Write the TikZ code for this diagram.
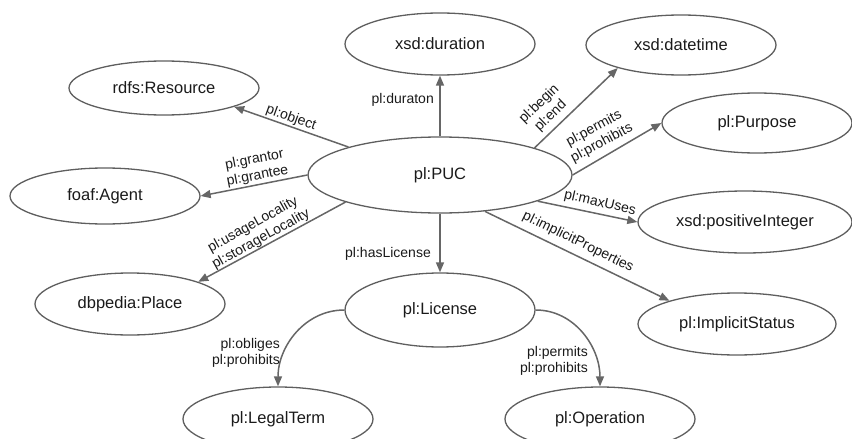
\documentclass[tikz,border=0pt]{standalone}
\usepackage{fontspec}
\setmainfont{Liberation Sans}
\usetikzlibrary{shapes.geometric,arrows.meta}
\definecolor{linegray}{HTML}{5E5E5E}
\definecolor{edgegray}{HTML}{666666}
\definecolor{txt}{HTML}{1A1A1A}
\begin{document}
\begin{tikzpicture}[x=1pt,y=-1pt,
  ent/.style={ellipse,draw=linegray,line width=1.3pt,inner sep=0pt,text=txt,
    minimum width=190pt,minimum height=62pt,font=\fontsize{16.5}{19}\selectfont},
  rel/.style={draw=edgegray,line width=1.5pt,-{Triangle[length=10pt,width=8pt]}},
  lbl/.style={text=txt,font=\fontsize{14}{16.5}\selectfont,inner sep=0pt,align=center}]
\useasboundingbox (0,0) rectangle (852,439);

% entities
\node[ent] (dur) at (440,44) {xsd:duration};
\node[ent,minimum height=54pt] (res) at (164,88) {rdfs:Resource};
\node[ent,minimum height=56pt] (agent) at (105,196) {foaf:Agent};
\node[ent,minimum width=264pt,minimum height=76pt] (puc) at (440,175) {pl:PUC};
\node[ent,minimum height=60pt] (dt) at (681,45) {xsd:datetime};
\node[ent,minimum height=60pt] (purp) at (757,123) {pl:Purpose};
\node[ent,minimum width=214pt] (posint) at (745,222) {xsd:positiveInteger};
\node[ent,minimum width=198pt] (impl) at (737,324) {pl:ImplicitStatus};
\node[ent] (place) at (130,304) {dbpedia:Place};
\node[ent,minimum height=74pt] (lic) at (440,310) {pl:License};
\node[ent,minimum height=64pt] (legal) at (278,419) {pl:LegalTerm};
\node[ent,minimum height=64pt] (oper) at (600,419) {pl:Operation};

% connectors
\draw[rel] (puc.163.4) -- (res.345);
\draw[rel] (puc.west) -- (agent.east);
\draw[rel] (puc.196.6) -- (place.18.7);
\draw[rel] (puc.north) -- (dur.south);
\draw[rel] (puc.16.8) -- (dt.200.6);
\draw[rel] (puc.east) -- (purp.west);
\draw[rel] (puc.345) -- (posint.west);
\draw[rel] (puc.321.3) -- (impl.161);
\draw[rel] (puc.south) -- (lic.north);
\draw[rel] (lic.west) to[out=180,in=90] (legal.north);
\draw[rel] (lic.east) to[out=0,in=90] (oper.north);

% labels
\node[lbl,rotate=-20] (lobj) at (291,118) {pl:object};
\node[lbl,rotate=11] (lgr) at (256,168) {pl:grantor\\pl:grantee};
\node[lbl,rotate=29] (lloc) at (257,232) {pl:usageLocality\\pl:storageLocality};
\node[lbl,anchor=east] (ldur) at (434,100) {pl:duraton};
\node[lbl,rotate=44] (lbe) at (545,110) {pl:begin\\pl:end};
\node[lbl,rotate=28] (lpp) at (598,136) {pl:permits\\pl:prohibits};
\node[lbl,rotate=-13] (lmax) at (600,203) {pl:maxUses};
\node[lbl,rotate=-26] (limp) at (578,242) {pl:implicitProperties};
\node[lbl,anchor=east] (lhas) at (431,254) {pl:hasLicense};
\node[lbl,anchor=east,align=right] (lob) at (280,353) {pl:obliges\\pl:prohibits};
\node[lbl,anchor=east,align=right] (lop) at (588,361) {pl:permits\\pl:prohibits};
\end{tikzpicture}
\end{document}
